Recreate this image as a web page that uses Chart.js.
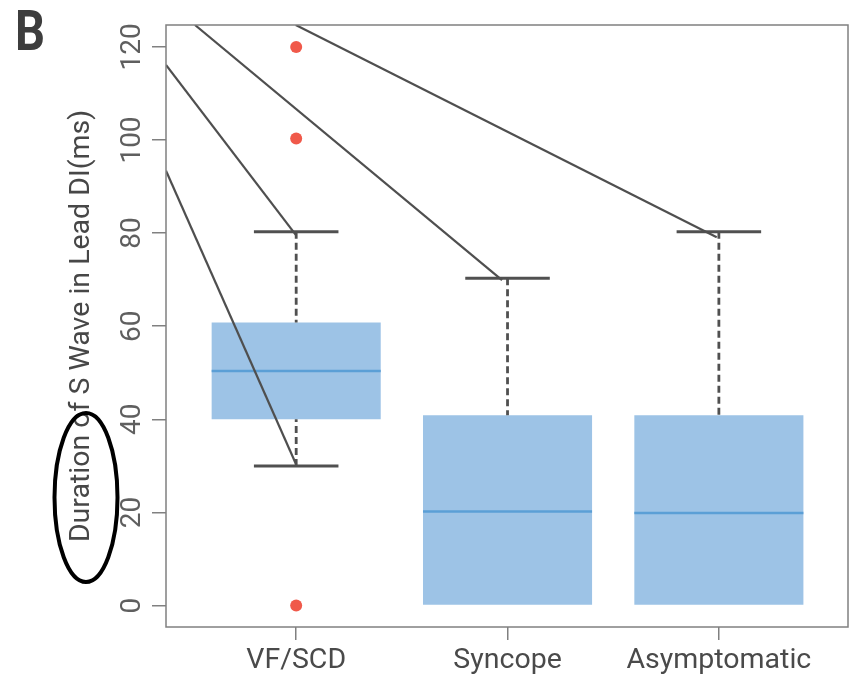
<!DOCTYPE html>
<html>
<head>
<meta charset="utf-8">
<script src="https://cdn.jsdelivr.net/npm/chart.js@4.4.1/dist/chart.umd.min.js"></script>
<style>
  html, body { margin: 0; padding: 0; background: #fff; }
  #wrap { width: 854px; height: 680px; position: relative; }
</style>
</head>
<body>
<div id="wrap"><canvas id="boxChart"></canvas></div>
<script>
// S wave duration in lead DI (ms), per group
const categories  = ['VF/SCD', 'Syncope', 'Asymptomatic'];
const whiskerLow  = [30, 0, 0];
const q1          = [40, 0, 0];
const median      = [50.4, 20.2, 19.9];
const q3          = [60.8, 40.9, 40.9];
const whiskerHigh = [80.3, 70.3, 80.3];
const outliers    = [[120, 100.3, 0], [], []];
const yTicks      = [0, 20, 40, 60, 80, 100, 120];

// pointer lines coming in from the panel above (x = group position, y = ms)
const pointerLines = [
  [{x: 0.384, y: 93.4},  {x: 1,     y: 30.3}],
  [{x: 0.384, y: 116.1}, {x: 1,     y: 79.5}],
  [{x: 0.521, y: 124.7}, {x: 1.974, y: 69.9}],
  [{x: 0.998, y: 124.7}, {x: 2.99,  y: 79.1}]
];

const boxData = categories.map((c, i) => ({x: i + 1, y: [q1[i], q3[i]]}));
const outlierData = [];
outliers.forEach((vals, i) => vals.forEach(v => outlierData.push({x: i + 1, y: v})));

// median, whiskers and caps, drawn right after the boxes
const boxParts = {
  id: 'boxParts',
  afterDatasetDraw(chart, args) {
    if (args.index !== 0) return;
    const ctx = chart.ctx;
    const ys = chart.scales.y;
    const line = (x1, y1, x2, y2) => {
      ctx.beginPath(); ctx.moveTo(x1, y1); ctx.lineTo(x2, y2); ctx.stroke();
    };
    ctx.save();
    args.meta.data.forEach((bar, i) => {
      const half = bar.width / 2;
      const cap = bar.width / 4;
      ctx.setLineDash([]);
      ctx.strokeStyle = '#5B9FD6';
      ctx.lineWidth = 2.5;
      const my = ys.getPixelForValue(median[i]);
      line(bar.x - half, my, bar.x + half, my);

      [[q3[i], whiskerHigh[i]], [q1[i], whiskerLow[i]]].forEach(([from, to]) => {
        if (from === to) return;
        ctx.strokeStyle = '#505050';
        ctx.lineWidth = 2.8;
        ctx.setLineDash([7, 4]);
        line(bar.x, ys.getPixelForValue(to), bar.x, ys.getPixelForValue(from));
        ctx.setLineDash([]);
        ctx.lineWidth = 3;
        const cy = ys.getPixelForValue(to);
        line(bar.x - cap, cy, bar.x + cap, cy);
      });
    });
    ctx.restore();
  }
};

// frame around the plot, panel letter, and the hand-drawn ring
const decorations = {
  id: 'decorations',
  afterDraw(chart) {
    const {ctx, chartArea: a} = chart;
    ctx.save();
    ctx.strokeStyle = '#808080';
    ctx.lineWidth = 1.5;
    ctx.strokeRect(a.left, a.top, a.right - a.left, a.bottom - a.top);

    ctx.save();
    ctx.fillStyle = '#3d3d3d';
    ctx.font = 'bold 56px Roboto';
    ctx.textBaseline = 'alphabetic';
    ctx.translate(15, 50);
    ctx.scale(0.84, 1);
    ctx.fillText('B', 0, 0);
    ctx.restore();

    ctx.strokeStyle = '#000';
    ctx.lineWidth = 4;
    ctx.beginPath();
    ctx.ellipse(a.left - 80, a.bottom - 129.5, 31.5, 84.5, 0, 0, Math.PI * 2);
    ctx.stroke();
    ctx.restore();
  }
};

const lineSets = pointerLines.map(pts => ({
  type: 'line',
  data: pts,
  borderColor: '#4f4f4f',
  borderWidth: 2.2,
  pointRadius: 0,
  fill: false,
  order: 0
}));

new Chart(document.getElementById('boxChart'), {
  type: 'bar',
  data: {
    datasets: [
      {
        type: 'bar',
        data: boxData,
        backgroundColor: '#9DC3E6',
        borderWidth: 0,
        categoryPercentage: 1,
        barPercentage: 0.8,
        order: 10
      },
      {
        type: 'scatter',
        data: outlierData,
        backgroundColor: '#F0594A',
        borderWidth: 0,
        pointRadius: 6,
        order: 5
      },
      ...lineSets
    ]
  },
  options: {
    responsive: true,
    maintainAspectRatio: false,
    animation: false,
    layout: { padding: { top: 25, right: 4, bottom: 0, left: 0 } },
    plugins: { legend: { display: false }, tooltip: { enabled: false } },
    scales: {
      x: {
        type: 'linear',
        offset: false,
        min: 0.384,
        max: 3.611,
        border: { display: false },
        grid: { offset: false, drawOnChartArea: false, drawTicks: true, tickLength: 13, color: '#808080', lineWidth: 1.5 },
        afterBuildTicks: s => { s.ticks = categories.map((c, i) => ({value: i + 1})); },
        afterFit: s => { s.height = 53; },
        ticks: {
          callback: v => categories[v - 1],
          color: '#4a4a4a',
          padding: 4,
          maxRotation: 0,
          font: { family: 'Roboto', size: 28.5 }
        }
      },
      y: {
        min: -4.6,
        max: 124.7,
        border: { display: false },
        grid: { offset: false, drawOnChartArea: false, drawTicks: true, tickLength: 14, color: '#808080', lineWidth: 1.5 },
        afterBuildTicks: s => { s.ticks = yTicks.map(v => ({value: v})); },
        afterFit: s => { s.width = 166; },
        ticks: {
          color: '#5f5f5f',
          minRotation: 90,
          maxRotation: 90,
          crossAlign: 'center',
          padding: -5,
          font: { family: 'Roboto', size: 28 }
        },
        title: {
          display: true,
          text: 'Duration of S Wave in Lead DI(ms)',
          color: '#474747',
          padding: { top: 65, bottom: 0 },
          font: { family: 'Roboto', size: 28.5 }
        }
      }
    }
  },
  plugins: [boxParts, decorations]
});
</script>
</body>
</html>
